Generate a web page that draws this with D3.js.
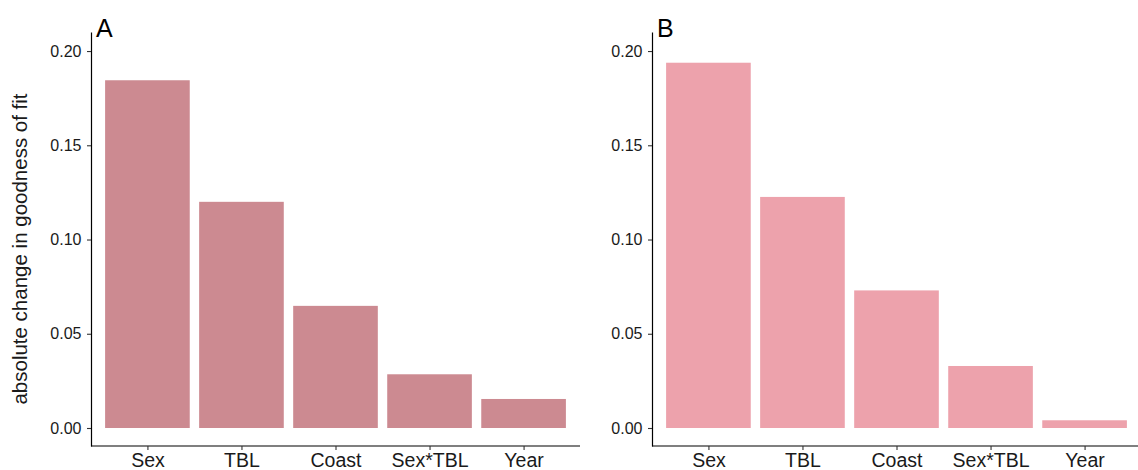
<!DOCTYPE html>
<html>
<head>
<meta charset="utf-8">
<script src="https://cdn.jsdelivr.net/npm/d3@7"></script>
<style>
  html, body { margin: 0; padding: 0; background: #fff; }
  svg { display: block; font-family: "Liberation Sans", Arial, Helvetica, sans-serif; }
</style>
</head>
<body>
<svg id="chart" width="1138" height="470"></svg>
<script>
// Predictor names shared by both panels
const categories = ["Sex", "TBL", "Coast", "Sex*TBL", "Year"];
// Absolute change in goodness of fit, panel A
const valuesA = [0.1845, 0.1200, 0.0648, 0.0285, 0.0154];
// Absolute change in goodness of fit, panel B
const valuesB = [0.1938, 0.1226, 0.0730, 0.0329, 0.0041];
// Y tick values and their labels
const yTicks = [0.00, 0.05, 0.10, 0.15, 0.20];
const yTickLabels = ["0.00", "0.05", "0.10", "0.15", "0.20"];
const yLabel = "absolute change in goodness of fit";

const svg = d3.select("#chart");

// Shared vertical scale: axis spans slightly below 0 and above the top tick
const yTop = 32, yBottom = 446;
const y = d3.scaleLinear()
  .domain([-0.00955, 0.2101])
  .range([yBottom, yTop]);

const panels = [
  { tag: "A", values: valuesA, color: "#cc8a91", x0: 91, x1: 580 },
  { tag: "B", values: valuesB, color: "#eda2ac", x0: 652, x1: 1141 }
];

panels.forEach(p => {
  const g = svg.append("g");

  const x = d3.scalePoint()
    .domain(categories)
    .range([p.x0, p.x1])
    .padding(0.6);
  const barW = x.step() * 0.9;

  // bars
  g.selectAll("rect.bar")
    .data(categories.map((c, i) => ({ c, v: p.values[i] })))
    .join("rect")
    .attr("class", "bar")
    .attr("x", d => x(d.c) - barW / 2)
    .attr("width", barW)
    .attr("y", d => y(d.v))
    .attr("height", d => y(0) - y(d.v))
    .attr("fill", p.color);

  // y axis
  const yAxis = d3.axisLeft(y)
    .tickValues(yTicks)
    .tickFormat((d, i) => yTickLabels[i])
    .tickSize(4)
    .tickPadding(5.5)
    .tickSizeOuter(0);
  const ya = g.append("g")
    .attr("transform", `translate(${p.x0},0)`)
    .call(yAxis);
  ya.select(".domain").attr("stroke", "#000").attr("stroke-width", 1.2);
  ya.selectAll(".tick line").attr("stroke", "#333").attr("stroke-width", 1.1);
  ya.selectAll(".tick text")
    .attr("fill", "#1a1a1a")
    .style("font-size", "16px")
    .style("font-family", "'Liberation Sans', Arial, sans-serif");

  // x axis
  const xAxis = d3.axisBottom(x)
    .tickSize(4)
    .tickPadding(3)
    .tickSizeOuter(0);
  const xa = g.append("g")
    .attr("transform", `translate(0,${yBottom})`)
    .call(xAxis);
  xa.select(".domain")
    .attr("d", `M${p.x0},0H${p.x1}`)
    .attr("stroke", "#000").attr("stroke-width", 1.2);
  xa.selectAll(".tick line").attr("stroke", "#333").attr("stroke-width", 1.1);
  xa.selectAll(".tick text")
    .attr("fill", "#1a1a1a")
    .style("font-size", "19.5px")
    .style("font-family", "'Liberation Sans', Arial, sans-serif");

  // panel tag
  g.append("text")
    .attr("x", p.x0 + 5)
    .attr("y", 37)
    .attr("fill", "#000")
    .style("font-size", "25px")
    .text(p.tag);
});

// y axis title (left panel only)
svg.append("text")
  .attr("transform", "translate(27,249) rotate(-90)")
  .attr("text-anchor", "middle")
  .attr("fill", "#1a1a1a")
  .style("font-size", "20.5px")
  .text(yLabel);
</script>
</body>
</html>
